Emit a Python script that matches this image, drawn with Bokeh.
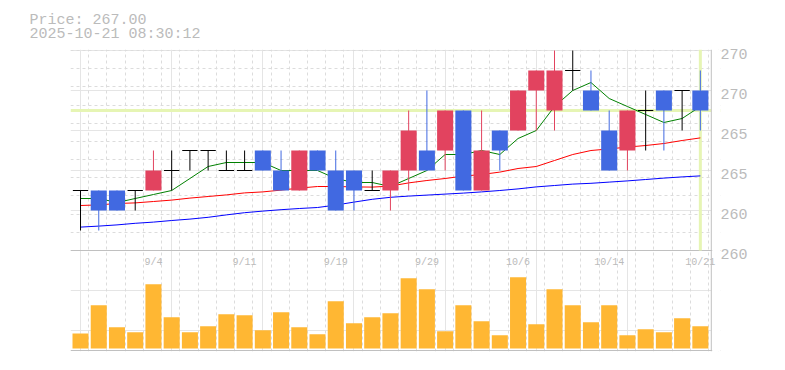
from bokeh.plotting import figure
from bokeh.models import Range1d, LinearAxis, FixedTicker, Grid, Span, Title, BoxAnnotation, ColumnDataSource
from bokeh.core.properties import value
from bokeh.embed import file_html
from bokeh.resources import INLINE

# ---------------- data ----------------
dates = ["8/29", "9/1", "9/2", "9/3", "9/4", "9/5", "9/8", "9/9", "9/10", "9/11",
         "9/12", "9/16", "9/17", "9/18", "9/19", "9/22", "9/24", "9/25", "9/26", "9/29",
         "9/30", "10/1", "10/2", "10/3", "10/6", "10/7", "10/8", "10/9", "10/10", "10/14",
         "10/15", "10/16", "10/17", "10/20", "10/21"]
opens = [263, 263, 263, 263, 263, 264, 265, 265, 264, 264,
         265, 264, 263, 265, 264, 264, 263, 263, 264, 265,
         265, 267, 263, 266, 266, 268, 267, 269, 268, 266,
         265, 267, 268, 268, 268]
closes = [263, 262, 262, 263, 264, 264, 265, 265, 264, 264,
          264, 263, 265, 264, 262, 263, 263, 264, 266, 264,
          267, 263, 265, 265, 268, 269, 269, 269, 267, 264,
          267, 267, 267, 268, 267]
highs = [263, 263, 263, 263, 265, 265, 265, 265, 265, 265,
         265, 265, 265, 265, 265, 264, 264, 264, 267, 268,
         267, 267, 267, 266, 268, 269, 270, 270, 269, 267,
         267, 268, 268, 268, 269]
lows = [261, 261, 262, 262, 263, 263, 264, 264, 264, 264,
        264, 263, 263, 264, 262, 262, 263, 262, 263, 264,
        264, 263, 263, 264, 266, 266, 266, 268, 267, 264,
        264, 265, 265, 266, 266]
volumes = [150000, 433000, 213000, 163000, 643000, 313000, 163000, 223000, 343000, 333000,
           183000, 363000, 213000, 143000, 473000, 253000, 313000, 353000, 703000, 593000,
           173000, 433000, 273000, 133000, 713000, 243000, 593000, 433000, 263000, 433000,
           133000, 193000, 163000, 303000, 223000]
ma_short = [262.6, 262.6, 262.4, 262.6, 262.8, 263.0, 263.6, 264.2, 264.4, 264.4,
            264.4, 264.0, 264.0, 264.0, 263.6, 263.4, 263.4, 263.2, 263.6, 264.0,
            264.8, 264.8, 265.0, 264.8, 265.6, 266.0, 267.2, 268.0, 268.4, 267.6,
            267.2, 266.8, 266.4, 266.6, 267.2]
ma_mid = [262.25, 262.28, 262.35, 262.38, 262.45, 262.52, 262.62, 262.7, 262.78, 262.88,
          262.93, 263.02, 263.12, 263.2, 263.2, 263.18, 263.17, 263.22, 263.38, 263.5,
          263.6, 263.72, 263.8, 263.92, 264.1, 264.2, 264.5, 264.8, 265.0, 265.08,
          265.17, 265.25, 265.35, 265.5, 265.63]
ma_long = [261.17, 261.22, 261.28, 261.36, 261.42, 261.5, 261.57, 261.66, 261.78, 261.89,
           261.97, 262.04, 262.1, 262.15, 262.27, 262.42, 262.56, 262.66, 262.72, 262.77,
           262.82, 262.87, 262.93, 263.0, 263.08, 263.18, 263.25, 263.32, 263.36, 263.42,
           263.48, 263.55, 263.62, 263.68, 263.73]
date_tick_idx = [4, 9, 14, 19, 24, 29, 34]
date_tick_labels = ["9/4", "9/11", "9/19", "9/29", "10/6", "10/14", "10/21"]
price_ticks = [270, 268, 266, 264, 262, 260]
price_tick_labels = ["270", "270", "265", "265", "260", "260"]
last_price = 267.00
header_price = "Price: 267.00"
header_time = "2025-10-21 08:30:12"

# ---------------- styles ----------------
UP = "#E2435F"
DOWN = "#4169E1"
VOL = "#FFB733"
GRID = "#DCDCDC"
BORDER = "#C0C0C0"
HILITE = "#E6F5B4"
TXT = "#BBBBBB"
MONO = "Liberation Mono"

n = len(dates)
idx = list(range(n))
X0 = -0.55
X_BORDER = 34.6

p = figure(frame_width=650, frame_height=302,
           x_range=Range1d(X0, X0 + 650 / 18.23), y_range=Range1d(254.95, 270.05),
           x_axis_location=None, y_axis_location=None,
           min_border_left=70, min_border_top=49, min_border_bottom=2, min_border_right=40,
           output_backend="svg", toolbar_location=None, outline_line_color=None,
           background_fill_color="white", border_fill_color="white")
p.title = None
p.extra_y_ranges = {"vol": Range1d(-30000, 2990000), "lab": Range1d(255.1, 270.2)}

# grids
p.add_layout(Grid(dimension=0, ticker=FixedTicker(ticks=[X0 + k for k in range(36)]),
                  grid_line_color=GRID, grid_line_dash="3 3", grid_line_width=1))
p.add_layout(Grid(dimension=1, ticker=FixedTicker(ticks=[270 - k * 10 / 11 for k in range(11)]),
                  grid_line_color=GRID, grid_line_dash="3 3", grid_line_width=1))

# highlight of last price
p.add_layout(Span(location=last_price, dimension="width", line_color=HILITE, line_width=3, level="underlay"))
# blank strip right of the border (keeps grid inside the frame border)
p.add_layout(BoxAnnotation(left=X_BORDER, fill_color="white", fill_alpha=1.0, line_color=None, level="underlay"))
# last-day highlight
p.segment(x0=[idx[-1]], y0=[260], x1=[idx[-1]], y1=[270.05], line_color=HILITE, line_width=3)

# frame lines
p.add_layout(Span(location=260, dimension="width", line_color=BORDER, line_width=1, level="underlay"))
p.add_layout(Span(location=255, dimension="width", line_color=BORDER, line_width=1, level="underlay"))
p.add_layout(Span(location=X_BORDER, dimension="height", line_color=BORDER, line_width=1, level="underlay"))
p.add_layout(BoxAnnotation(left=X_BORDER + 0.05, bottom=254.95, top=255.02, fill_color="white",
                           fill_alpha=1.0, line_color=None, level="underlay"))
p.add_layout(BoxAnnotation(left=X_BORDER + 0.05, bottom=259.97, top=260.03, fill_color="white",
                           fill_alpha=1.0, line_color=None, level="underlay"))

# volume
p.vbar(x=idx, top=volumes, bottom=0, width=0.88, fill_color=VOL, line_color=None, y_range_name="vol")

# moving averages
p.line(idx, ma_long, line_color="#0000FF", line_width=1)
p.line(idx, ma_mid, line_color="#FF0000", line_width=1)
p.line(idx, ma_short, line_color="#008000", line_width=1)

# candles
def pick(cond):
    return [i for i in idx if cond(i)]

up_i = pick(lambda i: closes[i] > opens[i])
dn_i = pick(lambda i: closes[i] < opens[i])
dj_i = pick(lambda i: closes[i] == opens[i])

for sel, col in ((up_i, UP), (dn_i, DOWN), (dj_i, "black")):
    src = ColumnDataSource(dict(
        x=sel,
        h=[highs[i] for i in sel], l=[lows[i] for i in sel],
        top=[max(opens[i], closes[i]) for i in sel],
        bot=[min(opens[i], closes[i]) for i in sel],
        o=[opens[i] for i in sel],
        xl=[i - 0.42 for i in sel], xr=[i + 0.42 for i in sel]))
    p.segment(x0="x", y0="h", x1="x", y1="l", source=src, line_color=col, line_width=1)
    if col == "black":
        p.segment(x0="xl", y0="o", x1="xr", y1="o", source=src, line_color=col, line_width=1)
    else:
        p.vbar(x="x", top="top", bottom="bot", width=0.88, source=src, fill_color=col, line_color=None)

# date labels inside volume panel
p.text(x=date_tick_idx, y=[259.4] * len(date_tick_idx), text=date_tick_labels,
       text_font=value(MONO), text_font_size="10px", text_color=TXT,
       text_align="center", text_baseline="middle")

# right price axis
ax = LinearAxis(y_range_name="lab", ticker=FixedTicker(ticks=price_ticks),
                major_label_overrides={t: s for t, s in zip(price_ticks, price_tick_labels)},
                axis_line_color=None, major_tick_line_color=None, minor_tick_line_color=None,
                major_tick_in=0, major_tick_out=0, major_label_standoff=0,
                major_label_text_font=MONO, major_label_text_font_size="15px",
                major_label_text_color=TXT)
p.add_layout(ax, "right")

# header (two lines above the chart)
t_head = Title(text=header_price + "\n" + header_time, align="left", offset=-41, standoff=12,
               text_font=MONO, text_font_size="15px", text_font_style="normal", text_color=TXT,
               text_line_height=0.85)
p.add_layout(t_head, "above")

open("out.html", "w").write(file_html(p, INLINE))
